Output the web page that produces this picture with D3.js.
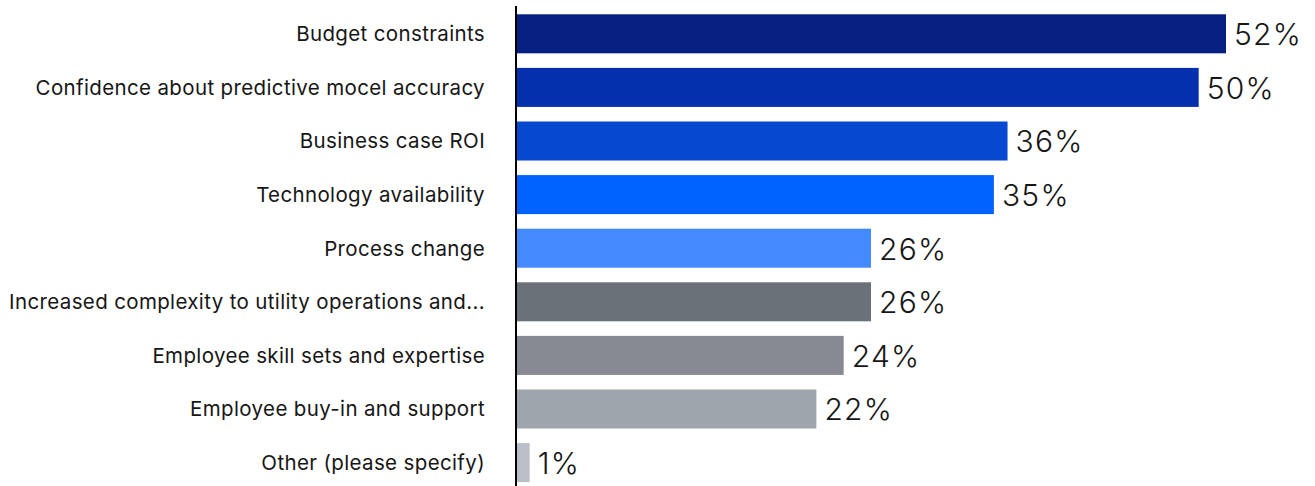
<!DOCTYPE html>
<html>
<head>
<meta charset="utf-8">
<script src="https://cdn.jsdelivr.net/npm/d3@7"></script>
<style>
  html, body { margin: 0; padding: 0; background: #fff; }
  svg { display: block; }
  .cat { font-family: Inter, "Noto Sans", sans-serif; font-size: 20.5px; letter-spacing: 0.36px; fill: #161616; }
  .val { font-family: Inter, "Noto Sans", sans-serif; font-size: 30px; font-weight: 300; letter-spacing: 1.3px; fill: #161616; }
</style>
</head>
<body>
<svg id="chart" width="1315" height="486"></svg>
<script>
// Barriers to adoption, share of respondents
const categories = [
  "Budget constraints",
  "Confidence about predictive mocel accuracy",
  "Business case ROI",
  "Technology availability",
  "Process change",
  "Increased complexity to utility operations and...",
  "Employee skill sets and expertise",
  "Employee buy-in and support",
  "Other (please specify)"
];
const values = [52, 50, 36, 35, 26, 26, 24, 22, 1];
const barColors = [
  "#061f80", "#0530ad", "#0648cf", "#0062ff", "#4589ff",
  "#6b7178", "#878a93", "#9ea5ac", "#babec7"
];

const svg = d3.select("#chart");
const x0 = 516;

const x = d3.scaleLinear()
  .domain([0, 52])
  .range([x0, 1226]);

const y = d3.scaleBand()
  .domain(categories)
  .range([7, 7 + 9 * 53.6])
  .paddingInner(0.272)
  .paddingOuter(0.136);

const color = d3.scaleOrdinal().domain(categories).range(barColors);

const rows = categories.map((c, i) => ({ cat: c, val: values[i] }));

// bars
svg.append("g")
  .selectAll("rect")
  .data(rows)
  .join("rect")
  .attr("x", x(0))
  .attr("y", d => y(d.cat))
  .attr("width", d => x(d.val) - x(0))
  .attr("height", y.bandwidth())
  .attr("fill", d => color(d.cat));

// category axis on the left
const yAxis = svg.append("g")
  .attr("transform", `translate(${x0},0)`)
  .call(d3.axisLeft(y).tickSize(0).tickPadding(31));
yAxis.select(".domain").remove();
yAxis.selectAll("text")
  .attr("class", "cat")
  .attr("fill", null)
  .attr("font-size", null)
  .attr("font-family", null)
  .attr("dy", "0.36em");

// baseline
svg.append("line")
  .attr("x1", x0).attr("x2", x0)
  .attr("y1", 6).attr("y2", 486)
  .attr("stroke", "#000")
  .attr("stroke-width", 2);

// value labels
svg.append("g")
  .selectAll("text")
  .data(rows)
  .join("text")
  .attr("class", "val")
  .attr("x", d => x(d.val) + 8)
  .attr("y", d => y(d.cat) + y.bandwidth() / 2)
  .attr("dy", "0.38em")
  .text(d => d.val + "%");
</script>
</body>
</html>
